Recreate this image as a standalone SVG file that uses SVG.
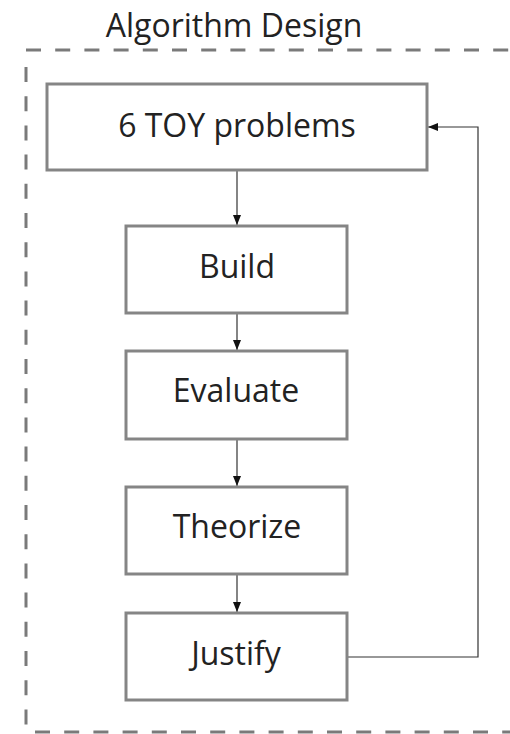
<svg xmlns="http://www.w3.org/2000/svg" width="510" height="734" viewBox="0 0 510 734">
  <style>
    .frame { fill: none; stroke: #7a7a7a; stroke-width: 3; stroke-dasharray: 15 14.2; }
    .box { fill: #ffffff; stroke: #858585; stroke-width: 3; }
    .label { font-family: "Open Sans", "Liberation Sans", sans-serif; font-size: 32px; fill: #222222; text-anchor: middle; }
    .edge { fill: none; stroke: #333333; stroke-width: 1.2; }
  </style>
  <defs>
    <marker id="arrow" viewBox="0 0 10 8" refX="10" refY="4" markerWidth="10" markerHeight="8" markerUnits="userSpaceOnUse" orient="auto">
      <path d="M0 0 L10 4 L0 8 Z" fill="#111111"/>
    </marker>
  </defs>
  <rect width="510" height="734" fill="#ffffff"/>

  <!-- dashed container -->
  <g id="container">
    <path class="frame" d="M26 50 H512"/>
    <path class="frame" d="M26 67 V727"/>
    <path class="frame" d="M35 732 H512"/>
    <text class="label" x="234" y="37">Algorithm Design</text>
  </g>

  <g id="connectors">
    <path class="edge" d="M237 171 V225" marker-end="url(#arrow)"/>
    <path class="edge" d="M237 314 V350" marker-end="url(#arrow)"/>
    <path class="edge" d="M237 440 V486" marker-end="url(#arrow)"/>
    <path class="edge" d="M237 575 V612" marker-end="url(#arrow)"/>
    <path class="edge" d="M348 657 H478 V127 H428" marker-end="url(#arrow)"/>
  </g>

  <g id="toy-problems">
    <rect class="box" x="47" y="84" width="380" height="86"/>
    <text class="label" x="237" y="137">6 TOY problems</text>
  </g>
  <g id="build">
    <rect class="box" x="126" y="226" width="221" height="87"/>
    <text class="label" x="237" y="278">Build</text>
  </g>
  <g id="evaluate">
    <rect class="box" x="126" y="351" width="221" height="88"/>
    <text class="label" x="236" y="402">Evaluate</text>
  </g>
  <g id="theorize">
    <rect class="box" x="126" y="487" width="221" height="87"/>
    <text class="label" x="237" y="538">Theorize</text>
  </g>
  <g id="justify">
    <rect class="box" x="126" y="613" width="221" height="87"/>
    <text class="label" x="236" y="665">Justify</text>
  </g>
</svg>
